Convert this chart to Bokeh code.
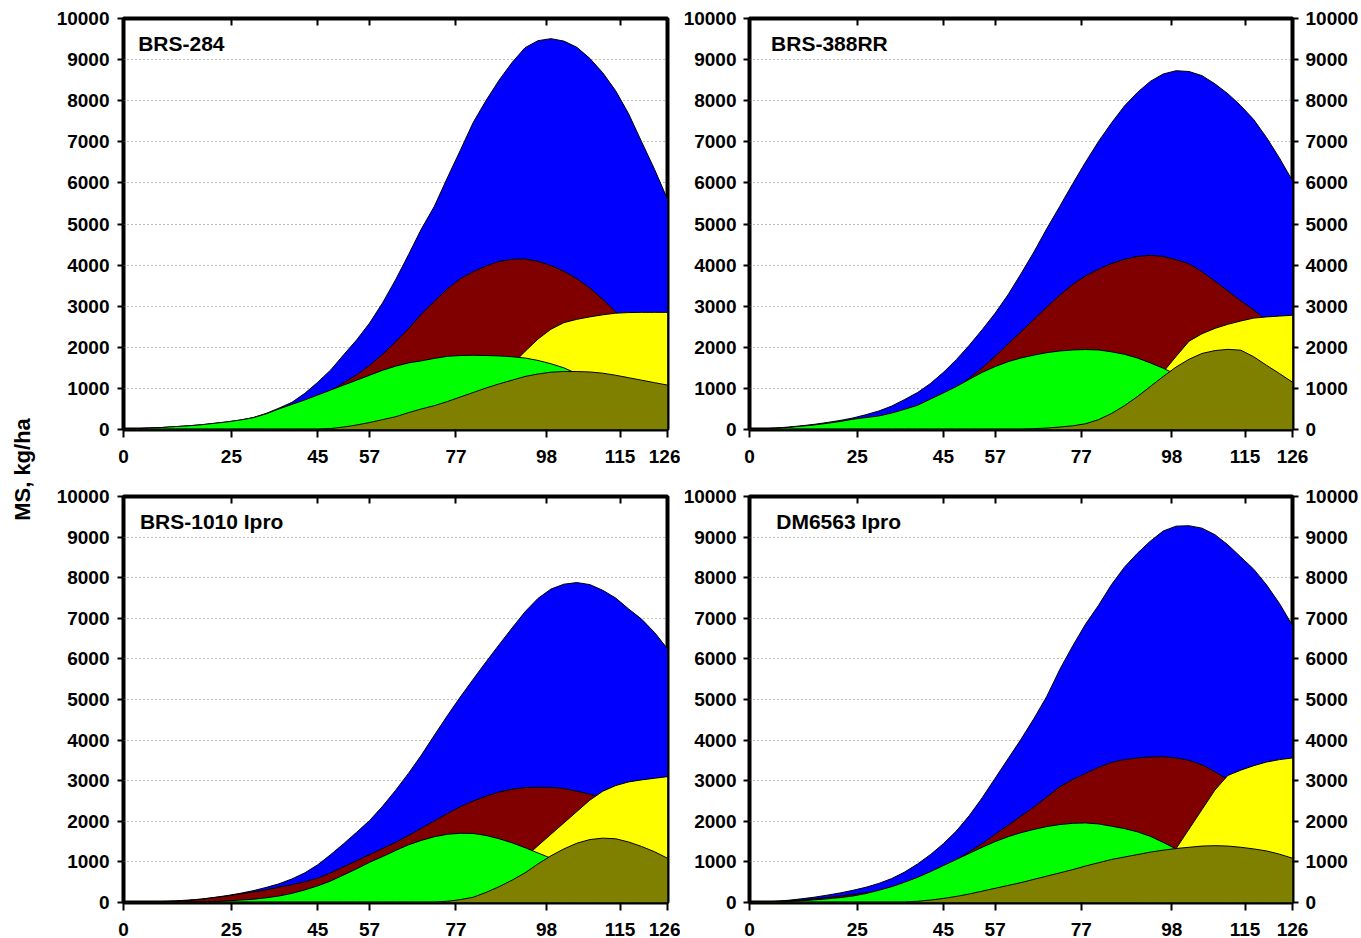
import math

from bokeh.core.properties import value
from bokeh.embed import file_html
from bokeh.layouts import column, row
from bokeh.models import FixedTicker, Label, LinearAxis, Range1d
from bokeh.plotting import figure
from bokeh.resources import INLINE

# ---------------------------------------------------------------------------
# Data: dry mass (kg/ha) by plant part, days after emergence (every 3 days)
# ---------------------------------------------------------------------------
DAYS = [0, 3, 6, 9, 12, 15, 18, 21, 24, 27, 30, 33, 36, 39, 42, 45, 48, 51, 54, 57, 60, 63,
        66, 69, 72, 75, 78, 81, 84, 87, 90, 93, 96, 99, 102, 105, 108, 111, 114, 117, 120, 123, 126]

X_TICKS = [0, 25, 45, 57, 77, 98, 115, 126]
X_TICK_LABELS = ["0", "25", "45", "57", "77", "98", "115", "126"]
Y_TICKS = [0, 1000, 2000, 3000, 4000, 5000, 6000, 7000, 8000, 9000, 10000]
Y_TICK_LABELS = ["0", "1000", "2000", "3000", "4000", "5000", "6000", "7000", "8000", "9000", "10000"]
Y_LABEL = "MS, kg/ha"

VARIETIES = ["BRS-284", "BRS-388RR", "BRS-1010 Ipro", "DM6563 Ipro"]

brs284_total = [0, 20, 35, 50, 70, 90, 115, 150, 185, 230, 290, 390, 520, 660, 880, 1150, 1450, 1820, 2180, 2590, 3080, 3640,
                4250, 4880, 5430, 6120, 6790, 7470, 8010, 8500, 8930, 9290, 9460, 9510, 9450, 9300, 9030, 8680, 8240, 7680, 7000, 6330, 5600]
brs284_stems = [0, 10, 20, 35, 50, 70, 90, 120, 150, 190, 240, 310, 400, 510, 650, 790, 940, 1140, 1330, 1560, 1830, 2130,
                2450, 2810, 3120, 3420, 3670, 3840, 3980, 4090, 4140, 4150, 4090, 3990, 3850, 3670, 3440, 3170, 2860, 2560, 2300, 2050, 1800]
brs284_grains = [0, 0, 0, 0, 0, 0, 0, 0, 0, 0, 0, 0, 0, 0, 0, 0, 0, 0, 0, 0, 0, 0,
                 0, 0, 0, 0, 250, 580, 920, 1260, 1580, 1900, 2200, 2440, 2600, 2680, 2740, 2790, 2830, 2845, 2850, 2850, 2850]
brs284_leaves = [0, 20, 35, 50, 70, 90, 115, 150, 185, 230, 285, 380, 500, 610, 720, 840, 960, 1080, 1200, 1320, 1440, 1540,
                 1620, 1670, 1730, 1780, 1800, 1805, 1800, 1790, 1770, 1740, 1680, 1600, 1500, 1360, 1200, 1050, 900, 770, 650, 540, 450]
brs284_pods = [15, 15, 15, 15, 15, 15, 15, 15, 15, 15, 15, 15, 15, 15, 15, 15, 25, 60, 110, 170, 240, 310,
               410, 500, 580, 680, 790, 900, 1010, 1110, 1200, 1290, 1350, 1395, 1410, 1410, 1400, 1370, 1320, 1260, 1200, 1140, 1080]

brs388_total = [0, 15, 35, 60, 90, 125, 170, 220, 280, 360, 450, 570, 730, 900, 1120, 1390, 1700, 2050, 2430, 2830, 3280, 3790,
                4320, 4890, 5430, 5980, 6510, 7010, 7460, 7870, 8200, 8470, 8650, 8730, 8710, 8610, 8410, 8170, 7880, 7540, 7100, 6600, 6050]
brs388_stems = [0, 10, 20, 35, 50, 75, 100, 130, 170, 220, 280, 360, 450, 560, 700, 850, 1000, 1250, 1500, 1780, 2080, 2380,
                2680, 2980, 3270, 3530, 3740, 3900, 4040, 4140, 4210, 4240, 4210, 4130, 4030, 3840, 3610, 3370, 3130, 2910, 2650, 2380, 2100]
brs388_grains = [0, 0, 0, 0, 0, 0, 0, 0, 0, 0, 0, 0, 0, 0, 0, 0, 0, 0, 0, 0, 0, 0,
                 0, 0, 0, 0, 0, 0, 0, 250, 620, 1000, 1400, 1780, 2150, 2330, 2460, 2560, 2640, 2710, 2740, 2760, 2780]
brs388_leaves = [0, 15, 30, 50, 80, 110, 150, 195, 250, 290, 330, 400, 490, 590, 740, 890, 1045, 1220, 1390, 1530, 1650, 1740,
                 1810, 1870, 1910, 1935, 1945, 1935, 1890, 1830, 1740, 1620, 1490, 1340, 1200, 1050, 900, 770, 650, 540, 450, 370, 300]
brs388_pods = [15, 15, 15, 15, 15, 15, 15, 15, 15, 15, 15, 15, 15, 15, 15, 15, 15, 15, 15, 15, 15, 15,
               20, 35, 60, 90, 140, 240, 390, 580, 800, 1045, 1290, 1520, 1710, 1850, 1920, 1950, 1930, 1770, 1560, 1360, 1150]

brs1010_total = [0, 5, 15, 25, 40, 60, 85, 125, 170, 225, 290, 370, 460, 580, 730, 930, 1180, 1450, 1730, 2020, 2370, 2760,
                 3180, 3630, 4120, 4600, 5060, 5500, 5930, 6350, 6760, 7160, 7490, 7720, 7840, 7880, 7830, 7690, 7500, 7230, 6980, 6650, 6250]
brs1010_stems = [0, 5, 10, 20, 30, 50, 80, 120, 160, 210, 260, 310, 380, 440, 510, 600, 730, 880, 1030, 1180, 1330, 1480,
                 1650, 1830, 2010, 2190, 2360, 2500, 2620, 2720, 2790, 2830, 2840, 2835, 2810, 2740, 2670, 2570, 2450, 2310, 2150, 1980, 1800]
brs1010_grains = [0, 0, 0, 0, 0, 0, 0, 0, 0, 0, 0, 0, 0, 0, 0, 0, 0, 0, 0, 0, 0, 0,
                  0, 0, 0, 0, 0, 0, 250, 530, 820, 1110, 1400, 1680, 1960, 2240, 2520, 2740, 2880, 2970, 3020, 3060, 3100]
brs1010_leaves = [0, 0, 0, 0, 5, 10, 15, 25, 40, 60, 80, 115, 160, 225, 310, 410, 530, 680, 830, 990, 1130, 1280,
                  1420, 1530, 1620, 1680, 1705, 1700, 1650, 1570, 1470, 1350, 1220, 1090, 940, 800, 670, 560, 460, 380, 310, 250, 200]
brs1010_pods = [15, 15, 15, 15, 15, 15, 15, 15, 15, 15, 15, 15, 15, 15, 15, 15, 15, 15, 15, 15, 15, 15,
                15, 15, 15, 30, 70, 130, 250, 390, 550, 730, 950, 1150, 1320, 1460, 1550, 1585, 1570, 1490, 1380, 1250, 1090]

dm6563_total = [0, 10, 30, 55, 90, 130, 180, 235, 300, 375, 470, 590, 750, 950, 1180, 1450, 1760, 2140, 2580, 3060, 3540, 4020,
                4530, 5080, 5740, 6320, 6860, 7320, 7830, 8260, 8600, 8900, 9150, 9270, 9280, 9220, 9060, 8810, 8510, 8210, 7820, 7360, 6820]
dm6563_stems = [0, 10, 20, 40, 60, 90, 120, 160, 200, 240, 290, 350, 420, 510, 620, 800, 1050, 1250, 1450, 1680, 1900, 2130,
                2350, 2600, 2850, 3030, 3180, 3330, 3450, 3520, 3560, 3585, 3590, 3560, 3500, 3390, 3220, 3030, 2800, 2580, 2350, 2120, 1900]
dm6563_grains = [0, 0, 0, 0, 0, 0, 0, 0, 0, 0, 0, 0, 0, 0, 0, 0, 0, 0, 0, 0, 0, 0,
                 0, 0, 0, 0, 0, 0, 0, 0, 0, 370, 850, 1330, 1810, 2290, 2770, 3130, 3260, 3370, 3460, 3520, 3560]
dm6563_leaves = [0, 5, 10, 25, 40, 65, 90, 120, 160, 220, 300, 390, 500, 620, 760, 910, 1060, 1210, 1360, 1500, 1620, 1720,
                 1800, 1870, 1920, 1950, 1960, 1935, 1880, 1820, 1740, 1630, 1480, 1320, 1150, 1000, 850, 720, 600, 500, 400, 320, 250]
dm6563_pods = [15, 15, 15, 15, 15, 15, 15, 15, 15, 15, 15, 15, 15, 30, 60, 100, 150, 210, 280, 350, 420, 490,
               570, 650, 730, 810, 900, 980, 1060, 1120, 1180, 1240, 1290, 1330, 1360, 1390, 1400, 1390, 1360, 1320, 1270, 1190, 1090]

# ---------------------------------------------------------------------------
# Styling
# ---------------------------------------------------------------------------
FONT = "Liberation Sans"
TICK_FONT_SIZE = "19px"
PANEL_TITLE_SIZE = "21px"

# drawing order: back to front, each area filled down to zero
PART_COLORS = ["#0000FF", "#800000", "#FFFF00", "#00FF00", "#808000"]

PANEL_SERIES = {
    "BRS-284": [brs284_total, brs284_stems, brs284_grains, brs284_leaves, brs284_pods],
    "BRS-388RR": [brs388_total, brs388_stems, brs388_grains, brs388_leaves, brs388_pods],
    "BRS-1010 Ipro": [brs1010_total, brs1010_stems, brs1010_grains, brs1010_leaves, brs1010_pods],
    "DM6563 Ipro": [dm6563_total, dm6563_stems, dm6563_grains, dm6563_leaves, dm6563_pods],
}

FRAME_W = 544
YLABEL_W = 40


def style_axis(axis, tick_out, standoff, show_labels=True):
    axis.axis_line_color = None
    axis.major_tick_line_color = "black"
    axis.major_tick_line_width = 2
    axis.major_tick_out = tick_out
    axis.major_tick_in = 0
    axis.minor_tick_line_color = None
    axis.major_label_standoff = standoff
    axis.major_label_text_font = FONT
    axis.major_label_text_font_style = "bold"
    axis.major_label_text_font_size = TICK_FONT_SIZE if show_labels else "1px"
    axis.major_label_text_color = "black"
    if not show_labels:
        axis.major_label_text_alpha = 0


def make_panel(name, right_col, top_row, title_dx):
    frame_h = 411 if top_row else 408
    b_top = 18 if top_row else 20
    b_bottom = 47 if top_row else 34
    b_left = 68 if right_col else 123 - YLABEL_W
    b_right = 69 if right_col else 13
    p = figure(
        width=b_left + FRAME_W + b_right,
        height=b_top + frame_h + b_bottom,
        x_range=Range1d(0, 126),
        y_range=Range1d(0, 10000),
        min_border_left=b_left,
        min_border_right=b_right,
        min_border_top=b_top,
        min_border_bottom=b_bottom,
        output_backend="svg",
        toolbar_location=None,
    )
    p.background_fill_color = "white"
    p.border_fill_color = "white"
    p.outline_line_color = "black"
    p.outline_line_width = 4

    # bottom axis
    p.xaxis.ticker = FixedTicker(ticks=X_TICKS)
    p.xaxis.major_label_overrides = dict(zip(X_TICKS, X_TICK_LABELS))
    style_axis(p.xaxis[0], 8, 12)

    # left axis
    p.yaxis.ticker = FixedTicker(ticks=Y_TICKS)
    p.yaxis.major_label_overrides = dict(zip(Y_TICKS, Y_TICK_LABELS))
    style_axis(p.yaxis[0], 6, 7 if right_col else 8)

    # inner ticks along the top edge
    top = LinearAxis(ticker=FixedTicker(ticks=X_TICKS[1:-1]))
    style_axis(top, 0, 0, show_labels=False)
    top.major_tick_in = 7
    top.major_tick_out = 0
    p.add_layout(top, "above")

    if right_col:
        right = LinearAxis(ticker=FixedTicker(ticks=Y_TICKS))
        right.major_label_overrides = dict(zip(Y_TICKS, Y_TICK_LABELS))
        style_axis(right, 6, 7)
        p.add_layout(right, "right")

    p.xgrid.visible = False
    p.ygrid.ticker = FixedTicker(ticks=Y_TICKS[1:-1])
    p.ygrid.grid_line_color = "#7a7a7a"
    p.ygrid.grid_line_dash = "1 3"
    p.ygrid.grid_line_width = 1

    for values, color in zip(PANEL_SERIES[name], PART_COLORS):
        xs = DAYS + DAYS[::-1]
        ys = values + [0] * len(DAYS)
        p.patch(xs, ys, fill_color=color, line_color="black", line_width=1)

    p.add_layout(Label(
        x=title_dx, y=9380, text=name,
        text_align="left", text_baseline="middle",
        text_font=FONT, text_font_style="bold", text_font_size=PANEL_TITLE_SIZE,
        text_color="black",
    ))
    return p


tl = make_panel(VARIETIES[0], False, True, 3.4)
tr = make_panel(VARIETIES[1], True, True, 5.0)
bl = make_panel(VARIETIES[2], False, False, 3.8)
br = make_panel(VARIETIES[3], True, False, 6.2)

# shared vertical axis title on its own narrow strip
lab = figure(
    width=YLABEL_W, height=938,
    x_range=Range1d(0, YLABEL_W), y_range=Range1d(0, 938),
    min_border=0, x_axis_location=None, y_axis_location=None,
    output_backend="svg", toolbar_location=None,
)
lab.outline_line_color = None
lab.grid.visible = False
lab.text(
    x=[22], y=[469], text=[Y_LABEL], angle=math.pi / 2,
    text_align="center", text_baseline="middle",
    text_font=value(FONT), text_font_style="bold", text_font_size="22px",
    text_color="black",
)

layout = row(lab, column(row(tl, tr), row(bl, br)))

open("out.html", "w").write(file_html(layout, INLINE, "MS, kg/ha"))
